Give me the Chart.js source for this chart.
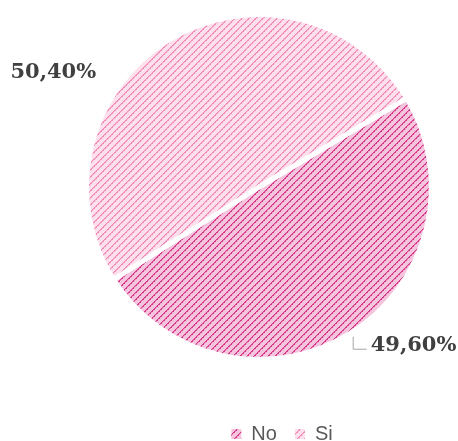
<!DOCTYPE html>
<html>
<head>
<meta charset="utf-8">
<script src="https://cdn.jsdelivr.net/npm/chart.js@4"></script>
<style>
  body { margin: 0; background: #fff; }
  canvas { display: block; }
</style>
</head>
<body>
<canvas id="pieChart" width="458" height="441"></canvas>
<script>
const categories = ['No', 'Si'];
const shares = [49.6, 50.4];
// [ground, stripe, stripe edge] for each slice
const fills = [
  ['#f5c4dd', '#d8388a', '#e98abb'],
  ['#fde0eb', '#f08ab8', '#f7bbd4']
];

const canvas = document.getElementById('pieChart');
const ctx = canvas.getContext('2d');

// upward diagonal hatch tile, dotted look
function hatch(ground, stripe, edge) {
  const size = 7;
  const tile = document.createElement('canvas');
  tile.width = tile.height = size;
  const g = tile.getContext('2d');
  g.fillStyle = ground;
  g.fillRect(0, 0, size, size);
  for (let y = 0; y < size; y++) {
    for (let x = 0; x < size; x++) {
      const d = (x + y) % size;
      if (d === 0) {
        g.fillStyle = stripe;
        g.fillRect(x, y, 1, 1);
      } else if (d === 1) {
        g.fillStyle = (y % 2) ? stripe : edge;
        g.fillRect(x, y, 1, 1);
      }
    }
  }
  return ctx.createPattern(tile, 'repeat');
}

// where each percentage sits, measured from the slice's outer edge at mid angle
const labelSpots = [
  { dx: 21, dy: 12, align: 'left', leader: true },
  { dx: -115, dy: 32, align: 'center', leader: false }
];

const valueLabels = {
  id: 'valueLabels',
  afterDatasetsDraw(chart) {
    const c = chart.ctx;
    const arcs = chart.getDatasetMeta(0).data;
    c.save();
    c.font = 'bold 21px "DejaVu Serif"';
    c.fillStyle = '#404040';
    c.textBaseline = 'middle';
    arcs.forEach((arc, i) => {
      const p = arc.getProps(['x', 'y', 'startAngle', 'endAngle', 'outerRadius'], true);
      const mid = (p.startAngle + p.endAngle) / 2;
      const ex = p.x + Math.cos(mid) * p.outerRadius;
      const ey = p.y + Math.sin(mid) * p.outerRadius;
      const spot = labelSpots[i];
      if (spot.leader) {
        c.beginPath();
        c.strokeStyle = '#a6a6a6';
        c.lineWidth = 1;
        c.moveTo(ex + 3.5, ey + 3);
        c.lineTo(ex + 3.5, ey + 15.5);
        c.lineTo(ex + 17, ey + 15.5);
        c.stroke();
      }
      c.textAlign = spot.align;
      c.fillText(shares[i].toFixed(2).replace('.', ',') + '%', ex + spot.dx, ey + spot.dy);
    });
    c.restore();
  }
};

// move the legend row below the pie
const legendNudge = {
  id: 'legendNudge',
  afterLayout(chart, args, opts) {
    const lg = chart.legend;
    lg.left += opts.x;
    lg.right += opts.x;
    lg.top += opts.y;
    lg.bottom += opts.y;
  }
};

new Chart(ctx, {
  type: 'pie',
  data: {
    labels: categories,
    datasets: [{
      data: shares,
      backgroundColor: fills.map(f => hatch(f[0], f[1], f[2])),
      borderColor: '#ffffff',
      borderWidth: 5
    }]
  },
  options: {
    responsive: false,
    animation: false,
    rotation: 59,
    layout: { padding: { top: 12, left: 84, right: 24, bottom: 31 } },
    plugins: {
      tooltip: { enabled: false },
      legend: {
        position: 'bottom',
        labels: {
          boxWidth: 10,
          boxHeight: 10,
          padding: 18,
          color: '#595959',
          font: { family: '"Liberation Sans"', size: 20 },
          generateLabels(chart) {
            return Chart.overrides.pie.plugins.legend.labels.generateLabels(chart)
              .map(item => Object.assign(item, { lineWidth: 0 }));
          }
        }
      },
      legendNudge: { x: 23, y: 44 }
    }
  },
  plugins: [valueLabels, legendNudge]
});
</script>
</body>
</html>
